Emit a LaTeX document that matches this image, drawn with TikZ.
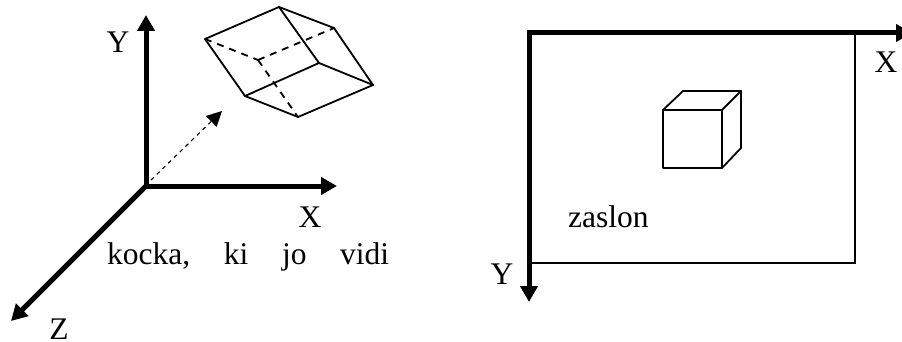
\documentclass[tikz,border=0pt]{standalone}
\usepackage{fontspec}
\setmainfont{Liberation Serif}
\usetikzlibrary{arrows.meta}
\tikzset{
  axis/.style={line width=5pt,-{Triangle[length=16pt,width=17pt]}},
  thin line/.style={line width=1.8pt,line join=round,line cap=round},
  edge dash/.style={line width=1.8pt,dash pattern=on 7pt off 6pt},
  ray/.style={line width=1.1pt,dash pattern=on 4pt off 4pt,-{Triangle[length=15pt,width=15pt]}},
  lbl/.style={anchor=base,inner sep=0pt,font=\fontsize{31.5}{38}\selectfont}
}
\begin{document}
\begin{tikzpicture}[x=1pt,y=-1pt]
\useasboundingbox (0,0) rectangle (902,342);
\clip (0,0) rectangle (902,342);
% left axes
\coordinate (O) at (146,186);
\coordinate (Ytip) at (146,15);
\coordinate (Xtip) at (337,186);
\coordinate (Ztip) at (11,321);
\draw[axis] (O) -- (Ytip);
\draw[axis] (O) -- (Xtip);
\draw[axis] (O) -- (Ztip);
% skew box
\coordinate (a) at (205,39);
\coordinate (b) at (279,7);
\coordinate (c) at (334,28);
\coordinate (d) at (373,85);
\coordinate (e) at (298,117);
\coordinate (f) at (245,96);
\coordinate (g) at (319,63);
\coordinate (h) at (258,60);
\draw[thin line] (a) -- (b) -- (c) -- (d) -- (e) -- (f) -- cycle;
\draw[thin line] (f) -- (g) -- (b);
\draw[thin line] (g) -- (d);
\draw[edge dash] (a) -- (h);
\draw[edge dash] (h) -- (c);
\draw[edge dash] (h) -- (e);
% view ray
\coordinate (r0) at (151,180);
\coordinate (r1) at (222,111);
\draw[ray] (r0) -- (r1);
% labels left
\node[lbl] (ly) at (118,53) {Y};
\node[lbl] (lx) at (310,227) {X};
\node[lbl] (lz) at (59,339) {Z};
\node[lbl,anchor=base west] (cap) at (107,264) {\hbox to 282pt{kocka,\hfill ki\hfill jo\hfill vidi}};
% right screen
\coordinate (S) at (529,33);
\coordinate (SX) at (912,33);
\coordinate (SY) at (529,302);
\coordinate (R1) at (855,33);
\coordinate (R2) at (855,263);
\coordinate (R3) at (529,263);
\draw[line width=1.8pt] (R1) -- (R2) -- (R3);
\draw[axis] (S) -- (SX);
\draw[axis] (S) -- (SY);
\fill (526.5,30.5) rectangle (531.5,35.5);
% cube
\coordinate (c1) at (663,110);
\coordinate (c2) at (722,110);
\coordinate (c3) at (722,168);
\coordinate (c4) at (663,168);
\coordinate (c5) at (683,91);
\coordinate (c6) at (741,91);
\coordinate (c7) at (741,148);
\draw[thin line] (c1) -- (c2) -- (c3) -- (c4) -- cycle;
\draw[thin line] (c1) -- (c5) -- (c6) -- (c2);
\draw[thin line] (c6) -- (c7) -- (c3);
% labels right
\node[lbl] (rx) at (886,73) {X};
\node[lbl] (ry) at (502,284) {Y};
\node[lbl,anchor=base west] (zas) at (568,227) {zaslon};
\end{tikzpicture}
\end{document}
